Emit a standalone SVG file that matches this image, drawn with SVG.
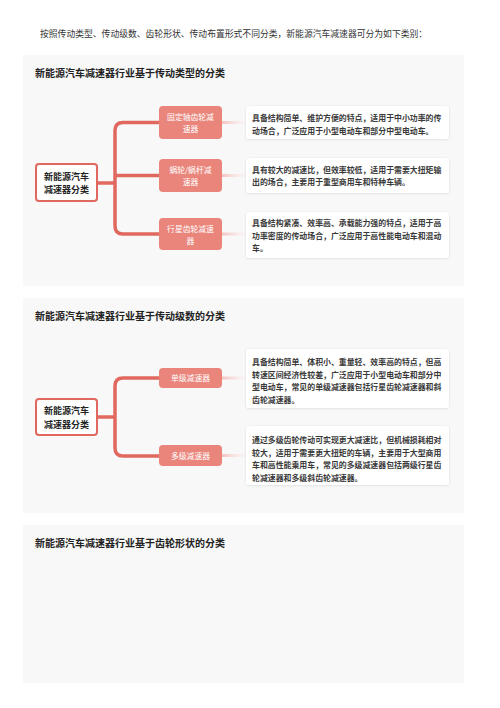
<svg xmlns="http://www.w3.org/2000/svg" width="500" height="708" viewBox="0 0 500 708">
<style>
text{font-family:"Noto Sans CJK SC","Noto Sans",sans-serif}
.intro{font-size:8.8px;fill:#333}
.title{font-size:10px;font-weight:bold;fill:#222}
.root{font-size:9px;font-weight:bold;fill:#222;text-anchor:middle}
.br{font-size:7.8px;fill:#fff;text-anchor:middle}
.desc{font-size:7.9px;font-weight:bold;fill:#3a3a3a}
.panel{fill:#f8f8f8}
.rootbox{fill:#fff;stroke:#e0685e;stroke-width:2}
.brbox{fill:#e9857b}
.dbox{fill:#fff;filter:url(#sh)}
.conn{fill:none;stroke:#e0685e;stroke-width:3.5;stroke-linecap:round}
.fade{fill:url(#fg)}
</style>
<defs>
<filter id="sh" x="-5%" y="-20%" width="110%" height="140%">
<feDropShadow dx="0" dy="0.5" stdDeviation="0.8" flood-color="#000" flood-opacity="0.12"/>
</filter>
<linearGradient id="fg" x1="0" x2="1" y1="0" y2="0">
<stop offset="0" stop-color="#f3c2bd"/>
<stop offset="1" stop-color="#fbeceb" stop-opacity="0.3"/>
</linearGradient>
</defs>
<rect width="500" height="708" fill="#fff"/>
<text class="intro" x="40" y="37">按照传动类型、传动级数、齿轮形状、传动布置形式不同分类，新能源汽车减速器可分为如下类别：</text>

<!-- Panel 1 -->
<rect class="panel" x="23" y="55" width="441" height="231"/>
<text class="title" x="35" y="77">新能源汽车减速器行业基于传动类型的分类</text>
<g id="connectors1">
<path class="conn" d="M97 183 H115 M159 122.5 H123 Q115 122.5 115 130.5 V226 Q115 234 123 234 H159 M115 175.5 H159"/>
<rect class="fade" x="222" y="121" width="24" height="3"/>
<rect class="fade" x="222" y="174" width="24" height="3"/>
<rect class="fade" x="222" y="232.5" width="24" height="3"/>
</g>
<g id="p1-root">
<rect class="rootbox" x="36" y="164" width="61" height="37" rx="3"/>
<text class="root" x="66.5" y="179.5">新能源汽车</text>
<text class="root" x="66.5" y="193">减速器分类</text>
</g>
<g id="p1-b1">
<rect class="brbox" x="159" y="106" width="63" height="33" rx="4"/>
<text class="br" x="190.5" y="120">固定轴齿轮减</text>
<text class="br" x="190.5" y="132">速器</text>
</g>
<g id="p1-b2">
<rect class="brbox" x="159" y="159" width="63" height="33" rx="4"/>
<text class="br" x="190.5" y="173">蜗轮/蜗杆减</text>
<text class="br" x="190.5" y="185">速器</text>
</g>
<g id="p1-b3">
<rect class="brbox" x="159" y="218" width="63" height="32" rx="4"/>
<text class="br" x="190.5" y="231.5">行星齿轮减速</text>
<text class="br" x="190.5" y="243.5">器</text>
</g>
<g id="p1-d1">
<rect class="dbox" x="246" y="106" width="203" height="33" rx="3"/>
<text class="desc" x="252" y="121">具备结构简单、维护方便的特点，适用于中小功率的传</text>
<text class="desc" x="252" y="133.5">动场合，广泛应用于小型电动车和部分中型电动车。</text>
</g>
<g id="p1-d2">
<rect class="dbox" x="246" y="158" width="203" height="35" rx="3"/>
<text class="desc" x="252" y="172.5">具有较大的减速比，但效率较低，适用于需要大扭矩输</text>
<text class="desc" x="252" y="185">出的场合，主要用于重型商用车和特种车辆。</text>
</g>
<g id="p1-d3">
<rect class="dbox" x="246" y="212" width="203" height="46" rx="3"/>
<text class="desc" x="252" y="226">具备结构紧凑、效率高、承载能力强的特点，适用于高</text>
<text class="desc" x="252" y="238.5">功率密度的传动场合，广泛应用于高性能电动车和混动</text>
<text class="desc" x="252" y="251">车。</text>
</g>

<!-- Panel 2 -->
<rect class="panel" x="23" y="298" width="441" height="215"/>
<text class="title" x="35" y="320">新能源汽车减速器行业基于传动级数的分类</text>
<g id="connectors2">
<path class="conn" d="M97 417 H115 M159 378 H123 Q115 378 115 386 V448 Q115 456 123 456 H159"/>
<rect class="fade" x="222" y="376.5" width="24" height="3"/>
<rect class="fade" x="222" y="454" width="24" height="3"/>
</g>
<g id="p2-root">
<rect class="rootbox" x="36" y="399" width="61" height="36" rx="3"/>
<text class="root" x="66.5" y="414">新能源汽车</text>
<text class="root" x="66.5" y="427.5">减速器分类</text>
</g>
<g id="p2-b1">
<rect class="brbox" x="159" y="368" width="63" height="20" rx="4"/>
<text class="br" x="190.5" y="381">单级减速器</text>
</g>
<g id="p2-b2">
<rect class="brbox" x="159" y="445" width="63" height="21" rx="4"/>
<text class="br" x="190.5" y="458.5">多级减速器</text>
</g>
<g id="p2-d1">
<rect class="dbox" x="246" y="349" width="203" height="59" rx="3"/>
<text class="desc" x="252" y="365">具备结构简单、体积小、重量轻、效率高的特点，但高</text>
<text class="desc" x="252" y="377.5">转速区间经济性较差，广泛应用于小型电动车和部分中</text>
<text class="desc" x="252" y="390">型电动车，常见的单级减速器包括行星齿轮减速器和斜</text>
<text class="desc" x="252" y="402.5">齿轮减速器。</text>
</g>
<g id="p2-d2">
<rect class="dbox" x="246" y="426" width="203" height="59" rx="3"/>
<text class="desc" x="252" y="443">通过多级齿轮传动可实现更大减速比，但机械损耗相对</text>
<text class="desc" x="252" y="455.5">较大，适用于需要更大扭矩的车辆，主要用于大型商用</text>
<text class="desc" x="252" y="468">车和高性能乘用车，常见的多级减速器包括两级行星齿</text>
<text class="desc" x="252" y="480.5">轮减速器和多级斜齿轮减速器。</text>
</g>

<!-- Panel 3 -->
<rect class="panel" x="23" y="525" width="441" height="158"/>
<text class="title" x="35" y="547">新能源汽车减速器行业基于齿轮形状的分类</text>
</svg>
